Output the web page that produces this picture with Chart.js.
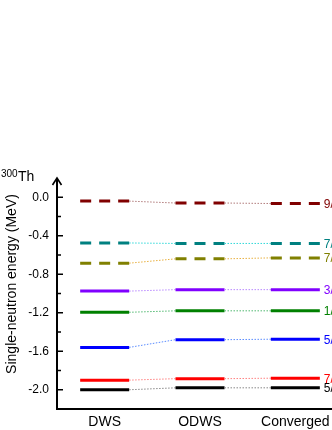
<!DOCTYPE html>
<html>
<head>
<meta charset="utf-8">
<script src="https://cdn.jsdelivr.net/npm/chart.js@4"></script>
<style>
  html, body { margin: 0; padding: 0; overflow: hidden; background: #fff; }
  #wrap { width: 360px; height: 430px; }
</style>
</head>
<body>
<div id="wrap"><canvas id="levels"></canvas></div>
<script>
// stages on the x axis
const stages = ['DWS', 'ODWS', 'Converged'];

// single-neutron levels (MeV), one entry per level, top to bottom
const levelNames = ['9/2', '7/2', '7/2', '3/2', '1/2', '5/2', '7/2', '5/2'];
const dwsE = [-0.04, -0.475, -0.685, -0.975, -1.195, -1.56, -1.90, -2.00];
const odwsE = [-0.06, -0.48, -0.64, -0.96, -1.18, -1.48, -1.885, -1.98];
const convE = [-0.065, -0.48, -0.63, -0.96, -1.18, -1.475, -1.88, -1.98];

const levelColors = ['#800000', '#008080', '#808000', '#8000ff', '#008000', '#0000ff', '#ff0000', '#000000'];
const linkColors = ['#b07a7a', '#30d8d8', '#e8b040', '#b888ff', '#50b870', '#5a8cff', '#ff8080', '#888888'];
const dashed = [true, true, true, false, false, false, false, false];

const HALF = 0.257; // half width of a level bar in x units

const datasets = levelNames.map((name, i) => {
  const ys = [dwsE[i], odwsE[i], convE[i]];
  const pts = [];
  ys.forEach((y, k) => {
    pts.push({x: k + 1 - HALF, y: y});
    pts.push({x: k + 1 + HALF, y: y});
  });
  return {
    label: name,
    data: pts,
    pointRadius: 0,
    borderColor: levelColors[i],
    borderWidth: 3,
    tension: 0,
    segment: {
      borderColor: (c) => c.p0DataIndex % 2 === 0 ? levelColors[i] : linkColors[i],
      borderWidth: (c) => c.p0DataIndex % 2 === 0 ? 3 : 1,
      borderDash: (c) => c.p0DataIndex % 2 === 0 ? (dashed[i] ? [11, 8] : []) : [1.5, 1.5],
    },
  };
});

// axes, inward ticks, arrow, texts
const decor = {
  id: 'decor',
  afterDraw(chart) {
    const ctx = chart.ctx;
    const a = chart.chartArea;
    const xs = chart.scales.x;
    const ys = chart.scales.y;
    ctx.save();
    ctx.strokeStyle = '#000';
    ctx.lineWidth = 2;
    ctx.beginPath();
    ctx.moveTo(a.left, a.bottom);
    ctx.lineTo(a.left, a.top);
    ctx.moveTo(a.left - 1, a.bottom);
    ctx.lineTo(a.right, a.bottom);
    ctx.stroke();
    // arrow head
    ctx.lineWidth = 1.6;
    ctx.beginPath();
    ctx.moveTo(a.left - 4.5, a.top + 7);
    ctx.lineTo(a.left, a.top);
    ctx.lineTo(a.left + 4.5, a.top + 7);
    ctx.stroke();
    // ticks
    ctx.lineWidth = 1.5;
    ys.ticks.forEach((t) => {
      const v = Math.round(t.value * 10);
      if (v > 0) return;
      const y = ys.getPixelForValue(t.value);
      const len = v % 4 === 0 ? 6 : 4;
      ctx.beginPath();
      ctx.moveTo(a.left, y);
      ctx.lineTo(a.left + len, y);
      ctx.stroke();
    });
    // level labels on the right
    ctx.font = '12px "Liberation Sans", Arial, sans-serif';
    ctx.textBaseline = 'middle';
    ctx.textAlign = 'left';
    levelNames.forEach((n, i) => {
      ctx.fillStyle = levelColors[i];
      ctx.fillText(n, xs.getPixelForValue(3 + HALF) + 4, ys.getPixelForValue(convE[i]) + 1);
    });
    // y title
    ctx.fillStyle = '#000';
    ctx.font = '14px "Liberation Sans", Arial, sans-serif';
    ctx.textAlign = 'center';
    ctx.translate(12, 284);
    ctx.rotate(-Math.PI / 2);
    ctx.fillText('Single-neutron energy (MeV)', 0, 0);
    ctx.restore();
    // nucleus
    ctx.save();
    ctx.fillStyle = '#000';
    ctx.textBaseline = 'alphabetic';
    ctx.font = '10px "Liberation Sans", Arial, sans-serif';
    ctx.fillText('300', 1, 177);
    ctx.font = '14px "Liberation Sans", Arial, sans-serif';
    ctx.fillText('Th', 18, 181);
    ctx.restore();
  }
};

Chart.defaults.font.family = '"Liberation Sans", Arial, sans-serif';
Chart.defaults.color = '#000';

new Chart(document.getElementById('levels'), {
  type: 'line',
  data: { datasets: datasets },
  options: {
    responsive: true,
    maintainAspectRatio: false,
    animation: false,
    devicePixelRatio: 1,
    layout: { padding: { top: 178, right: 17, left: 0, bottom: 0 } },
    plugins: { legend: { display: false }, tooltip: { enabled: false } },
    scales: {
      x: {
        type: 'linear',
        min: 0.5,
        max: 3.5,
        grid: { display: false, drawTicks: false },
        border: { display: false },
        afterBuildTicks: (s) => { s.ticks = stages.map((n, k) => ({value: k + 1})); },
        afterFit: (s) => { s.height = 21; },
        ticks: {
          padding: 5,
          maxRotation: 0,
          font: { size: 14 },
          callback: (v) => stages[Math.round(v) - 1] || '',
        },
      },
      y: {
        min: -2.2,
        max: 0.2,
        grid: { display: false, drawTicks: false },
        border: { display: false },
        afterFit: (s) => { s.width = 57; },
        ticks: {
          stepSize: 0.2,
          padding: 8,
          font: { size: 12 },
          callback: (v) => {
            const k = Math.round(v * 10);
            if (k > 0 || k % 4 !== 0) return '';
            return (k / 10).toFixed(1);
          },
        },
      },
    },
  },
  plugins: [decor],
});
</script>
</body>
</html>
